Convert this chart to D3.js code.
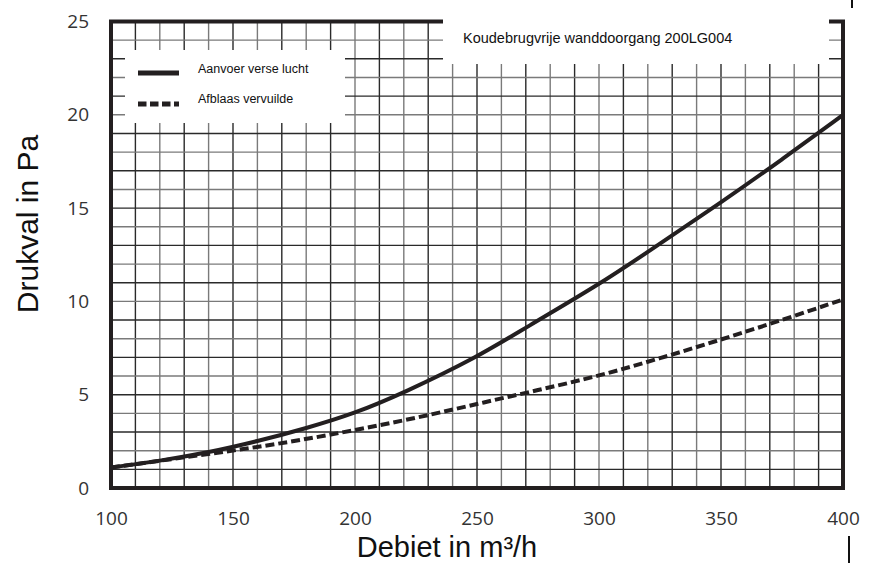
<!DOCTYPE html>
<html>
<head>
<meta charset="utf-8">
<script src="https://cdn.jsdelivr.net/npm/d3@7"></script>
<style>
  body { margin: 0; background: #fff; }
  svg { display: block; }
</style>
</head>
<body>
<svg id="chart" width="874" height="563"></svg>
<script>
// waarden
const debiet = [100, 120, 140, 160, 180, 200, 220, 250, 270, 300, 320, 350, 375, 400];
const aanvoer = [1.1, 1.45, 1.9, 2.5, 3.2, 4.0, 5.1, 7.0, 8.6, 10.9, 12.65, 15.3, 17.6, 20.0];
const debietAfblaas = [100, 125, 150, 175, 200, 225, 250, 275, 300, 325, 350, 375, 400];
const afblaas = [1.1, 1.55, 2.0, 2.5, 3.1, 3.75, 4.5, 5.25, 6.0, 6.95, 7.95, 9.0, 10.1];
const xTicks = [100, 150, 200, 250, 300, 350, 400];
const yTicks = [0, 5, 10, 15, 20, 25];
const seriesNames = ["Aanvoer verse lucht", "Afblaas vervuilde"];
const title = "Koudebrugvrije wanddoorgang 200LG004";

const svg = d3.select("#chart");
const ink = "#231f20";

// plotgebied
const plot = { left: 111, right: 843, top: 21.5, bottom: 488 };

const x = d3.scaleLinear().domain([100, 400]).range([plot.left, plot.right]);
const y = d3.scaleLinear().domain([0, 25]).range([plot.bottom, plot.top]);

// rasterlijnen
const grid = svg.append("g");
grid.selectAll(".vx")
    .data(d3.range(100, 401, 10))
    .enter()
    .append("line")
    .attr("x1", d => x(d)).attr("x2", d => x(d))
    .attr("y1", plot.top).attr("y2", plot.bottom)
    .style("stroke", (d, i) => i % 2 ? "#2a2a2a" : "#7a7a7a")
    .style("stroke-width", 1.4);
grid.selectAll(".hy")
    .data(d3.range(0, 26, 1))
    .enter()
    .append("line")
    .attr("x1", plot.left).attr("x2", plot.right)
    .attr("y1", d => y(d)).attr("y2", d => y(d))
    .style("stroke", (d, i) => i % 2 ? "#2a2a2a" : "#7a7a7a")
    .style("stroke-width", 1.4);

// kader
svg.append("rect")
    .attr("x", plot.left).attr("y", plot.top)
    .attr("width", plot.right - plot.left).attr("height", plot.bottom - plot.top)
    .style("fill", "none")
    .style("stroke", ink)
    .style("stroke-width", 4);

// curves
const line = d3.line()
    .x(d => x(d[0]))
    .y(d => y(d[1]))
    .curve(d3.curveBasis);

svg.append("path")
    .datum(debietAfblaas.map((d, i) => [d, afblaas[i]]))
    .attr("d", line)
    .style("fill", "none")
    .style("stroke", ink)
    .style("stroke-width", 4)
    .style("stroke-dasharray", "9,4");

svg.append("path")
    .datum(debiet.map((d, i) => [d, aanvoer[i]]))
    .attr("d", line)
    .style("fill", "none")
    .style("stroke", ink)
    .style("stroke-width", 4);

// titelvak
svg.append("rect")
    .attr("x", 443).attr("y", 0)
    .attr("width", 386).attr("height", 64)
    .style("fill", "#fff");
svg.append("text")
    .attr("x", 463).attr("y", 43)
    .style("font-family", "Liberation Sans, Arial, sans-serif")
    .style("font-size", "14.5px")
    .style("fill", "#111")
    .text(title);

// legenda
svg.append("rect")
    .attr("x", 125).attr("y", 50)
    .attr("width", 220).attr("height", 73)
    .style("fill", "#fff");
const legend = svg.append("g");
seriesNames.forEach((name, i) => {
    const ly = 73 + i * 31;
    legend.append("line")
        .attr("x1", 138).attr("x2", 179)
        .attr("y1", ly).attr("y2", ly)
        .style("stroke", ink)
        .style("stroke-width", 5)
        .style("stroke-dasharray", i ? "8.5,3.5" : null);
    legend.append("text")
        .attr("x", 198).attr("y", ly - i)
        .style("font-family", "Liberation Sans, Arial, sans-serif")
        .style("font-size", "12.5px")
        .style("fill", "#111")
        .text(name);
});

// assen
const xAxis = d3.axisBottom(x).tickValues(xTicks).tickSize(0).tickPadding(24);
svg.append("g")
    .attr("transform", `translate(0, ${plot.bottom})`)
    .call(xAxis)
    .call(g => g.select(".domain").remove())
    .selectAll("text")
    .style("font-family", "Open Sans, sans-serif")
    .style("font-size", "19px")
    .style("fill", "#333");

const yAxis = d3.axisLeft(y).tickValues(yTicks).tickSize(0).tickPadding(22);
svg.append("g")
    .attr("transform", `translate(${plot.left}, 0)`)
    .call(yAxis)
    .call(g => g.select(".domain").remove())
    .selectAll("text")
    .style("font-family", "Open Sans, sans-serif")
    .style("font-size", "19px")
    .style("fill", "#333");

// astitels
svg.append("text")
    .attr("x", 447).attr("y", 557)
    .attr("text-anchor", "middle")
    .style("font-family", "Liberation Sans, Arial, sans-serif")
    .style("font-size", "29px")
    .style("fill", "#111")
    .text("Debiet in m³/h");

svg.append("text")
    .attr("transform", "translate(38, 224) rotate(-90)")
    .attr("text-anchor", "middle")
    .style("font-family", "Liberation Sans, Arial, sans-serif")
    .style("font-size", "30px")
    .style("fill", "#111")
    .text("Drukval in Pa");

// losse streepjes rechts
svg.append("line")
    .attr("x1", 852).attr("x2", 852).attr("y1", 0).attr("y2", 8)
    .style("stroke", "#111").style("stroke-width", 2);
svg.append("line")
    .attr("x1", 849).attr("x2", 849).attr("y1", 536).attr("y2", 563)
    .style("stroke", "#111").style("stroke-width", 2);
</script>
</body>
</html>
